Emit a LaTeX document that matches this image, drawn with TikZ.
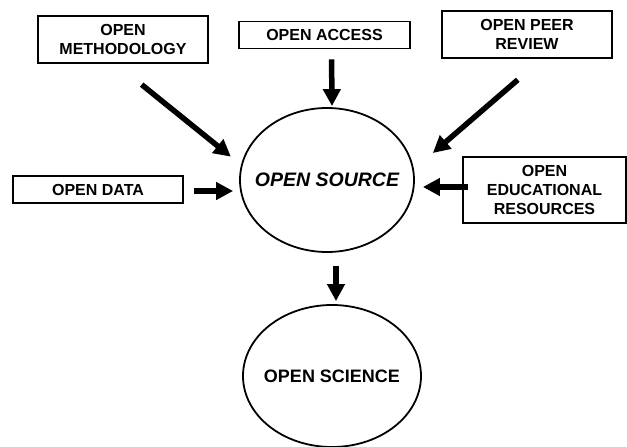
\documentclass[tikz,border=0pt]{standalone}
\usepackage{fontspec}
\setmainfont{Liberation Sans}
\usetikzlibrary{arrows.meta,shapes.geometric}

\begin{document}
\begin{tikzpicture}[x=1pt,y=-1pt,
  box/.style={draw,line width=1.8pt,align=center,inner sep=0pt,font=\bfseries\fontsize{16}{19}\selectfont},
  blob/.style={draw,ellipse,line width=1.8pt,inner xsep=-20pt,inner ysep=0pt},
  arr/.style={line width=5.5pt,-{Triangle[length=17pt,width=17pt]}}]
\useasboundingbox (0,0) rectangle (627,447);
\node[box,minimum width=170pt,minimum height=47pt] (meth) at (123,39.5) {OPEN\\METHODOLOGY};
\node[box,minimum width=171pt,minimum height=27pt] (acc) at (324.5,35) {OPEN ACCESS};
\node[box,minimum width=170pt,minimum height=47pt] (peer) at (527,34.5) {OPEN PEER\\REVIEW};
\node[box,minimum width=170pt,minimum height=27pt] (data) at (98,189.5) {OPEN DATA};
\node[box,minimum width=163pt,minimum height=66pt] (edu) at (544.5,190) {OPEN\\EDUCATIONAL\\RESOURCES};
\node[blob,minimum width=174pt,minimum height=144pt,font=\bfseries\itshape\fontsize{19.5}{22}\selectfont] (src) at (327,180) {OPEN SOURCE};
\node[blob,minimum width=178pt,minimum height=142pt,font=\bfseries\fontsize{18}{22}\selectfont] (sci) at (332,376) {OPEN SCIENCE};
\draw[arr,shorten <=33pt,shorten >=13pt] ([xshift=-7pt]meth.south) -- (src.170);
\draw[arr,shorten <=10pt,shorten >=1pt] ([xshift=7pt]acc.south) -- ([xshift=5pt]src.north);
\draw[arr,shorten <=32pt,shorten >=25pt] ([xshift=15pt]peer.south) -- (src.7);
\draw[arr,shorten <=10pt,shorten >=6pt] ([yshift=-1.5pt]data.east) -- ([yshift=-1.5pt]data.east -| src.west);
\draw[arr,shorten <=-6pt,shorten >=8pt] ([yshift=3pt]edu.west) -- ([yshift=3pt]edu.west -| src.east);
\draw[arr,shorten <=13pt,shorten >=3pt] ([xshift=9pt]src.south) -- ([xshift=4pt]sci.north);
\end{tikzpicture}
\end{document}
